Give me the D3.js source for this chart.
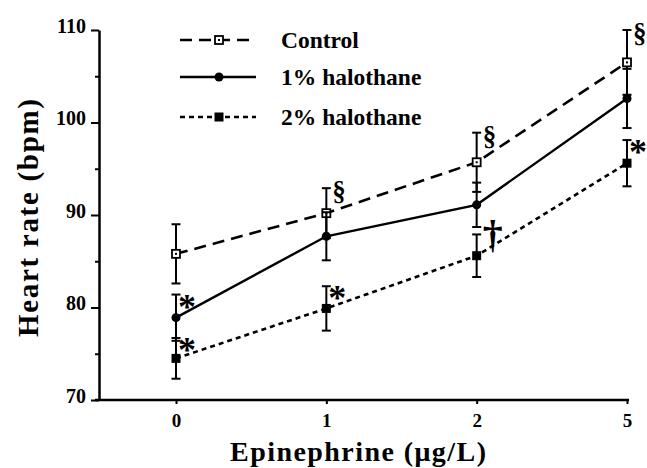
<!DOCTYPE html>
<html>
<head>
<meta charset="utf-8">
<script src="https://cdn.jsdelivr.net/npm/d3@7"></script>
<style>
  body { margin: 0; background: #fff; }
  svg { display: block; }
  text { font-family: "Liberation Serif", "Times New Roman", serif; font-weight: bold; fill: #000; }
</style>
</head>
<body>
<div id="chart"></div>
<script>
// doses on the x axis
const doses = ["0", "1", "2", "5"];
// series values (mean heart rate, bpm) and error bars
const controlMean = [85.8, 90.2, 95.7, 106.5];
const controlErr = [3.2, 2.7, 3.2, 3.5];
const halo1Mean = [78.9, 87.7, 91.1, 102.6];
const halo1Err = [2.5, 2.6, 2.4, 3.2];
const halo2Mean = [74.5, 79.9, 85.6, 95.6];
const halo2Err = [2.2, 2.4, 2.3, 2.5];
const seriesNames = ["Control", "1% halothane", "2% halothane"];
const yTicks = [70, 80, 90, 100, 110];
const yMinorTicks = [75, 85, 95, 105];
// significance marks: series index, dose, symbol
const sigMarks = [
    { s: 0, dose: "1", sym: "§" },
    { s: 0, dose: "2", sym: "§" },
    { s: 0, dose: "5", sym: "§" },
    { s: 1, dose: "0", sym: "*" },
    { s: 2, dose: "0", sym: "*" },
    { s: 2, dose: "1", sym: "*" },
    { s: 2, dose: "2", sym: "†" },
    { s: 2, dose: "5", sym: "*" }
];

const width = 647, height = 468;
const axisLeftX = 99, axisBottomY = 400;

const svg = d3.select('#chart')
    .append('svg')
    .attr('width', width)
    .attr('height', height);

const x = d3.scalePoint().domain(doses).range([176, 627]);
const y = d3.scaleLinear().domain([70, 110]).range([axisBottomY, 30]);

const series = [
    { mean: controlMean, err: controlErr, dash: "12,7", marker: "open" },
    { mean: halo1Mean, err: halo1Err, dash: null, marker: "circle" },
    { mean: halo2Mean, err: halo2Err, dash: "5,4", marker: "square" }
];

// y axis
const yAxis = svg.append('g')
    .attr('transform', 'translate(' + axisLeftX + ',0)')
    .call(d3.axisLeft(y).tickValues(yTicks).tickSize(8).tickSizeOuter(0).tickPadding(5));
yAxis.select('.domain').attr('stroke-width', 2.5);
yAxis.selectAll('.tick line').attr('stroke-width', 2);
yAxis.selectAll('.tick text').style('font-size', '20px').attr('dy', '0.12em');

svg.append('g')
    .attr('transform', 'translate(' + axisLeftX + ',0)')
    .call(d3.axisLeft(y).tickValues(yMinorTicks).tickSize(4).tickFormat(''))
    .call(g => g.select('.domain').remove())
    .selectAll('.tick line').attr('stroke-width', 2);

// x axis
svg.append('line')
    .attr('x1', axisLeftX - 4).attr('x2', 629)
    .attr('y1', axisBottomY).attr('y2', axisBottomY)
    .attr('stroke', '#000').attr('stroke-width', 2.5);
const xAxis = svg.append('g')
    .attr('transform', 'translate(0,' + axisBottomY + ')')
    .call(d3.axisBottom(x).tickSize(4).tickSizeOuter(0).tickPadding(10));
xAxis.select('.domain').remove();
xAxis.selectAll('.tick line').attr('stroke-width', 2);
xAxis.selectAll('.tick text').style('font-size', '19px');

// axis titles
svg.append('text')
    .attr('x', 358).attr('y', 461)
    .attr('text-anchor', 'middle')
    .attr('textLength', 256)
    .style('font-size', '28px')
    .text('Epinephrine (μg/L)');

svg.append('text')
    .attr('transform', 'translate(38,218) rotate(-90)')
    .attr('text-anchor', 'middle')
    .attr('textLength', 238)
    .style('font-size', '29px')
    .text('Heart rate (bpm)');

const line = d3.line()
    .x((d, i) => x(doses[i]))
    .y(d => y(d));

const drawMarker = (g, type, cx, cy) => {
    if (type === "open") {
        g.append('rect').attr('x', cx - 4).attr('y', cy - 4).attr('width', 8).attr('height', 8)
            .attr('fill', '#fff').attr('stroke', '#000').attr('stroke-width', 1.8);
        g.append('rect').attr('x', cx - 1).attr('y', cy - 1).attr('width', 2).attr('height', 2).attr('fill', '#000');
    } else if (type === "circle") {
        g.append('circle').attr('cx', cx).attr('cy', cy).attr('r', 4.5).attr('fill', '#000');
    } else {
        g.append('rect').attr('x', cx - 4.5).attr('y', cy - 4.5).attr('width', 9).attr('height', 9).attr('fill', '#000');
    }
};

series.forEach(s => {
    const g = svg.append('g');
    // error bars
    s.mean.forEach((m, i) => {
        const cx = x(doses[i]);
        g.append('line')
            .attr('x1', cx).attr('x2', cx)
            .attr('y1', y(m - s.err[i])).attr('y2', y(m + s.err[i]))
            .attr('stroke', '#000').attr('stroke-width', 2);
        [m - s.err[i], m + s.err[i]].forEach(v => {
            g.append('line')
                .attr('x1', cx - 4.5).attr('x2', cx + 4.5)
                .attr('y1', y(v)).attr('y2', y(v))
                .attr('stroke', '#000').attr('stroke-width', 2);
        });
    });
    g.append('path')
        .datum(s.mean)
        .attr('d', line)
        .attr('fill', 'none')
        .attr('stroke', '#000')
        .attr('stroke-width', s.dash ? 2.6 : 2.4)
        .attr('stroke-dasharray', s.dash);
    s.mean.forEach((m, i) => drawMarker(g, s.marker, x(doses[i]), y(m)));
});

// significance symbols next to upper error bar cap
sigMarks.forEach(d => {
    const s = series[d.s];
    const i = doses.indexOf(d.dose);
    const capY = y(s.mean[i] + s.err[i]);
    const cx = x(d.dose);
    if (d.sym === "*") {
        svg.append('text')
            .attr('x', cx + 2).attr('y', capY + 24)
            .style('font-size', '36px')
            .text(d.sym);
    } else if (d.sym === "§") {
        svg.append('text')
            .attr('x', cx + 6).attr('y', capY + 12)
            .style('font-size', '27px')
            .text(d.sym);
    } else {
        svg.append('text')
            .attr('x', cx + 6).attr('y', capY + 14)
            .style('font-size', '40px')
            .text(d.sym);
    }
});

// legend
const legendY = [40, 77, 117];
const legend = svg.append('g');
series.forEach((s, i) => {
    legend.append('line')
        .attr('x1', 180).attr('x2', 256)
        .attr('y1', legendY[i]).attr('y2', legendY[i])
        .attr('stroke', '#000')
        .attr('stroke-width', s.dash ? 2.6 : 2.4)
        .attr('stroke-dasharray', s.dash);
    drawMarker(legend, s.marker, 219, legendY[i]);
    legend.append('text')
        .attr('x', 281).attr('y', legendY[i] + 8)
        .style('font-size', '23.5px')
        .text(seriesNames[i]);
});
</script>
</body>
</html>
